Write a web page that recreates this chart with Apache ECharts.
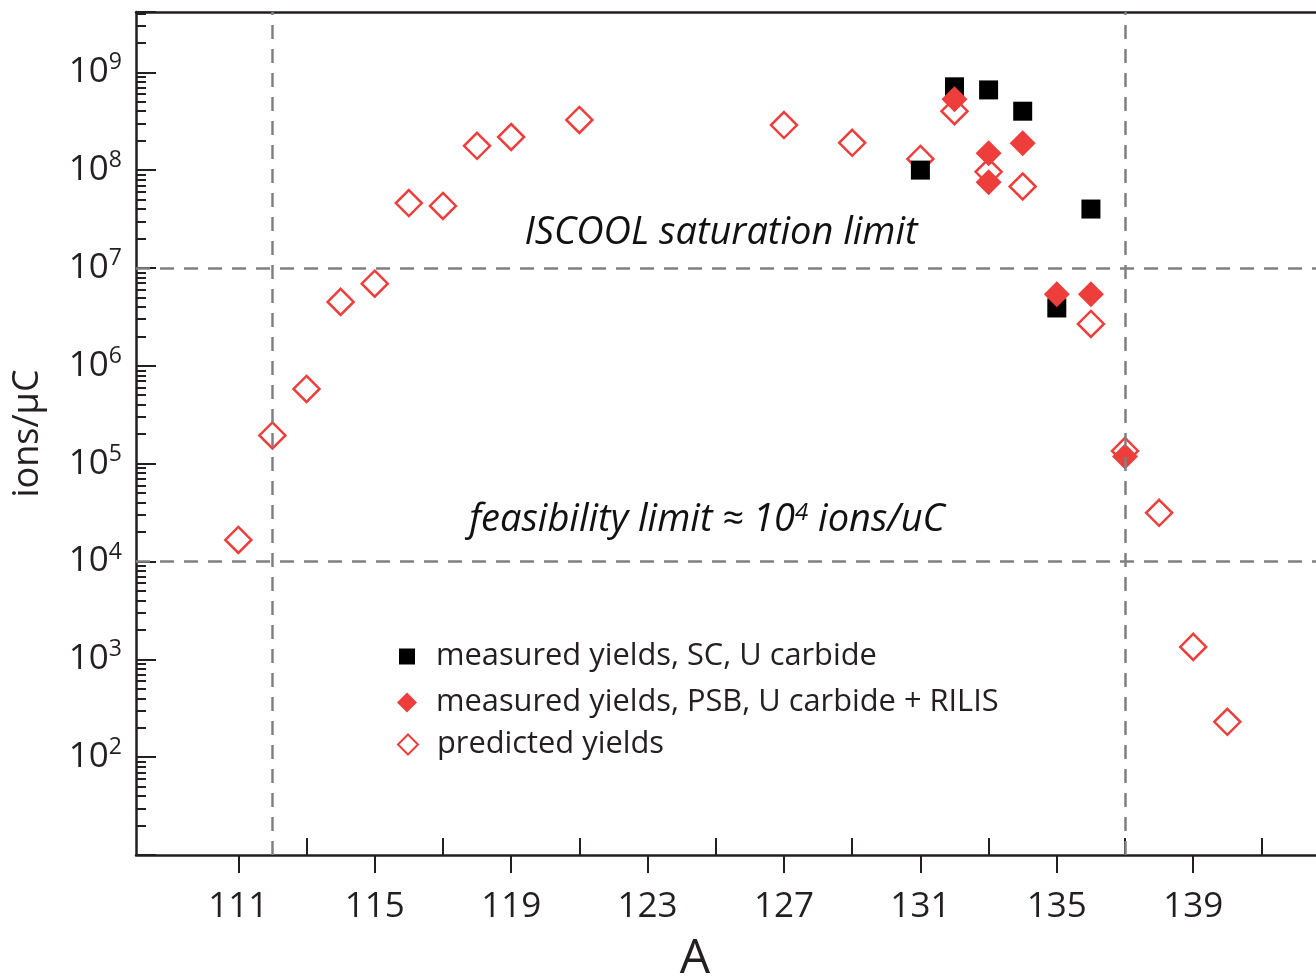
<!DOCTYPE html>
<html>
<head>
<meta charset="utf-8">
<script src="https://cdn.jsdelivr.net/npm/echarts@6/dist/echarts.min.js"></script>
<style>
  html, body { margin: 0; padding: 0; background: #fff; }
  #chart { width: 1316px; height: 978px; }
</style>
</head>
<body>
<div id="chart"></div>
<script>
// Mass numbers and yields (ions/µC)
const predictedA = [111, 112, 113, 114, 115, 116, 117, 118, 119, 121, 127, 129, 131, 132, 133, 134, 136, 137, 138, 139, 140];
const predictedYield = [1.66e4, 1.94e5, 5.8e5, 4.5e6, 6.9e6, 4.6e7, 4.3e7, 1.77e8, 2.18e8, 3.26e8, 2.89e8, 1.9e8, 1.3e8, 4.0e8, 9.6e7, 6.8e7, 2.68e6, 1.35e5, 3.14e4, 1.34e3, 230];

const scA = [131, 132, 133, 134, 135, 136];
const scYield = [1.0e8, 7.1e8, 6.6e8, 4.0e8, 3.9e6, 4.0e7];

const psbA = [132, 133, 133, 134, 135, 136, 137];
const psbYield = [5.3e8, 1.49e8, 7.5e7, 1.88e8, 5.4e6, 5.4e6, 1.18e5];

const seriesNames = [
  'measured yields, SC, U carbide',
  'measured yields, PSB, U carbide + RILIS',
  'predicted yields'
];

// Axis ticks
const xLabelTicks = [111, 115, 119, 123, 127, 131, 135, 139];
const xInnerTicks = [113, 117, 121, 125, 129, 133, 137, 141];

// Reference limits
const limitA = [112, 137];
const limitYield = [1e7, 1e4];

const FONT = '"Open Sans", "Noto Sans", sans-serif';
const INK = '#231f20';
const RED = '#ee3e3c';

const pairs = (xs, ys) => xs.map((x, i) => [x, ys[i]]);

const xRange = { min: 108, max: 142.6 };

const chart = echarts.init(document.getElementById('chart'), null, { renderer: 'canvas' });

const legendText = { fontFamily: FONT, fontSize: 30.8, color: INK, lineHeight: 30 };

const option = {
  animation: false,
  backgroundColor: '#fff',
  grid: { left: 136, right: 0, top: 12, bottom: 123, outerBoundsMode: 'none', containLabel: false },
  xAxis: [
    {
      type: 'value', position: 'bottom', ...xRange,
      name: 'A', nameLocation: 'middle', nameGap: 80,
      nameTextStyle: { fontFamily: FONT, fontSize: 48, color: INK, padding: [0, 62, 0, 0] },
      axisLine: { show: true, onZero: false, lineStyle: { color: INK, width: 2.5 } },
      axisTick: { show: true, inside: false, length: 18, customValues: xLabelTicks, lineStyle: { color: INK, width: 2 } },
      axisLabel: { show: true, customValues: xLabelTicks, margin: 35, fontFamily: FONT, fontSize: 35, color: INK },
      splitLine: { show: false }
    },
    {
      type: 'value', position: 'bottom', ...xRange,
      axisLine: { show: false, onZero: false },
      axisTick: { show: true, inside: true, length: 17, customValues: xInnerTicks, lineStyle: { color: INK, width: 2 } },
      axisLabel: { show: false },
      splitLine: { show: false }
    },
    {
      type: 'value', position: 'top', ...xRange,
      axisLine: { show: true, onZero: false, lineStyle: { color: INK, width: 2.5 } },
      axisTick: { show: false },
      axisLabel: { show: false },
      splitLine: { show: false }
    }
  ],
  yAxis: {
    type: 'log', logBase: 10, min: 10, max: 4.13e9,
    name: 'ions/μC', nameLocation: 'middle', nameGap: 90, nameRotate: 90,
    nameTextStyle: { fontFamily: FONT, fontSize: 36, color: INK },
    axisLine: { show: true, onZero: false, lineStyle: { color: INK, width: 2.5 } },
    axisTick: { show: true, inside: true, length: 20, lineStyle: { color: INK, width: 2 } },
    minorTick: { show: true, splitNumber: 9, length: 10, lineStyle: { color: INK, width: 2 } },
    axisLabel: {
      margin: 14,
      formatter: function (v) {
        const e = Math.round(Math.log10(v));
        if (e < 2 || e > 9) return '';
        return '{b|10}{s|' + e + '}';
      },
      rich: {
        b: { fontFamily: FONT, fontSize: 35, color: INK, lineHeight: 42 },
        s: { fontFamily: FONT, fontSize: 23, color: INK, verticalAlign: 'top', lineHeight: 38 }
      }
    },
    splitLine: { show: false }
  },
  legend: [
    {
      data: [seriesNames[0]], orient: 'vertical', left: 399, top: 641, padding: 0,
      itemWidth: 16, itemHeight: 16,
      textStyle: Object.assign({ padding: [0, 0, 0, 16] }, legendText)
    },
    {
      data: [seriesNames[1]], orient: 'vertical', left: 397, top: 687, padding: 0,
      itemWidth: 20, itemHeight: 20,
      textStyle: Object.assign({ padding: [0, 0, 0, 14] }, legendText)
    },
    {
      data: [seriesNames[2]], orient: 'vertical', left: 397, top: 729, padding: 0,
      itemWidth: 20, itemHeight: 20,
      textStyle: Object.assign({ padding: [0, 0, 0, 14] }, legendText)
    }
  ],
  series: [
    {
      // dashed limit lines
      type: 'scatter', name: 'limits', data: [], z: 1, silent: true,
      markLine: {
        silent: true, symbol: 'none', animation: false,
        label: { show: false },
        lineStyle: { color: '#808080', width: 2.5, type: [14, 10] },
        data: limitA.map(a => ({ xAxis: a })).concat(limitYield.map(y => ({ yAxis: y })))
      }
    },
    {
      name: seriesNames[2], type: 'scatter', z: 2,
      symbol: 'diamond', symbolSize: 26,
      itemStyle: { color: '#fff', borderColor: RED, borderWidth: 2.5, opacity: 1 },
      data: pairs(predictedA, predictedYield)
    },
    {
      name: seriesNames[0], type: 'scatter', z: 3,
      symbol: 'rect', symbolSize: 19,
      itemStyle: { color: '#000', opacity: 1 },
      data: pairs(scA, scYield)
    },
    {
      name: seriesNames[1], type: 'scatter', z: 4,
      symbol: 'diamond', symbolSize: 26,
      itemStyle: { color: RED, opacity: 1 },
      data: pairs(psbA, psbYield)
    }
  ],
  graphic: [
    {
      type: 'text', x: 721, y: 233, silent: true,
      style: {
        text: 'ISCOOL saturation limit', fontFamily: FONT, fontStyle: 'italic',
        fontSize: 38, fill: '#111', align: 'center', verticalAlign: 'middle'
      }
    },
    {
      type: 'text', x: 707, y: 520, silent: true,
      style: {
        text: 'feasibility limit ≈ 10{s|4} ions/uC', fontFamily: FONT, fontStyle: 'italic',
        fontSize: 38, fill: '#111', align: 'center', verticalAlign: 'middle',
        rich: {
          s: { fontFamily: FONT, fontStyle: 'italic', fontSize: 24, fill: '#111', verticalAlign: 'top' }
        }
      }
    }
  ]
};

chart.setOption(option);
</script>
</body>
</html>
